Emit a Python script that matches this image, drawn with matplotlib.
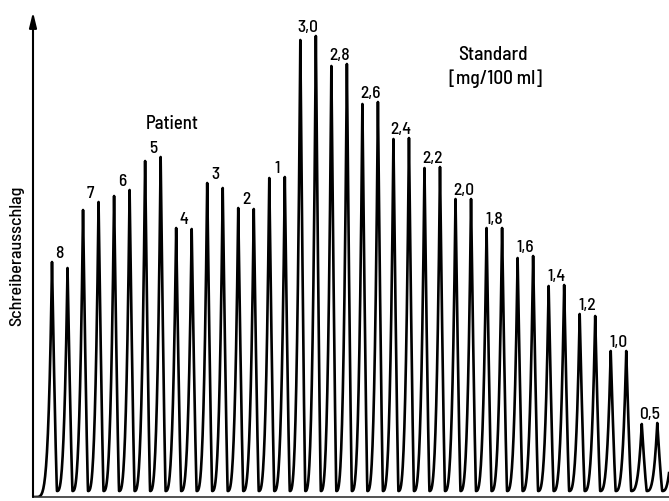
import numpy as np
import matplotlib
matplotlib.use("Agg")
import matplotlib.pyplot as plt

plt.rcParams['font.family'] = ['Barlow Semi Condensed', 'Liberation Sans', 'DejaVu Sans']
plt.rcParams['font.weight'] = 'medium'

# Schreiberausschlag der Peaks (Doppelbestimmungen), Einheit: beliebig
patient_labels = ["8", "7", "6", "5", "4", "3", "2", "1"]
patient_peaks = [235, 229, 287, 295, 301, 307, 336, 340,
                 269, 268, 314, 309, 289, 288, 319, 320]

standard_labels = ["3,0", "2,8", "2,6", "2,4", "2,2", "2,0",
                   "1,8", "1,6", "1,4", "1,2", "1,0", "0,5"]
standard_peaks = [457, 461, 431, 433, 393, 395, 358, 359, 329, 330, 298, 298,
                  269, 269, 239, 241, 211, 212, 183, 181, 146, 146, 73, 74]

trough = 6       # Minimum zwischen den Peaks
tail_peak = 74   # naechster Peak, rechts abgeschnitten

peaks = patient_peaks + standard_peaks
labels = patient_labels + standard_labels

# Kurvenform: schneller Abfall, langsamer (konvexer) Anstieg
fall = 0.32
u = np.linspace(0, 1, 40)
x_start = -1.15
xs = [x_start + (0 - x_start) * u]
ys = [peaks[0] * u ** 5]
nexts = peaks[1:] + [tail_peak]
for i, (h, h_next) in enumerate(zip(peaks, nexts)):
    xs.append(i + fall * u)
    ys.append(trough + (h - trough) * (1 - u) ** 1.2)
    xs.append(i + fall + (1 - fall) * u)
    ys.append(trough + (h_next - trough) * u ** 3)
x = np.concatenate(xs)
y = np.concatenate(ys)

fig = plt.figure(figsize=(6.69, 5.01), dpi=100)
ax = fig.add_axes([33 / 669, 4 / 501, 636 / 669, 497 / 501])
ax.set_xlim(-(52 - 33) / 15.52, (669 - 52) / 15.52)
ax.set_ylim(0, 497)
ax.axis('off')

ax.plot(x, y, color='black', lw=1.9, solid_joinstyle='round')

# Achsen
ax.axhline(0, color='#333333', lw=1.2, clip_on=False)
ax.annotate("", xy=(0, 485), xytext=(0, 0),
            xycoords=('axes fraction', 'data'), textcoords=('axes fraction', 'data'),
            arrowprops=dict(arrowstyle='-|>,head_length=0.9,head_width=0.22',
                            lw=1.5, color='black', mutation_scale=10,
                            shrinkA=0, shrinkB=0),
            annotation_clip=False)

# Beschriftung der Peakpaare
for j, lab in enumerate(labels):
    top = max(peaks[2 * j], peaks[2 * j + 1])
    ax.annotate(lab, (2 * j + 0.5, top), xytext=(0, 3), textcoords='offset points',
                ha='center', va='baseline', fontsize=12.5)

ax.text(7.73, 373, "Patient", ha='center', va='center', fontsize=13.5)
ax.text(28.4, 442, "Standard", ha='center', va='center', fontsize=14)
ax.text(28.55, 418, "[mg/100 ml]", ha='center', va='center', fontsize=14)

fig.text(17 / 669, 1 - 256 / 501, "Schreiberausschlag", rotation=90,
         ha='center', va='center', fontsize=13)

fig.savefig('out.png', dpi=100)
